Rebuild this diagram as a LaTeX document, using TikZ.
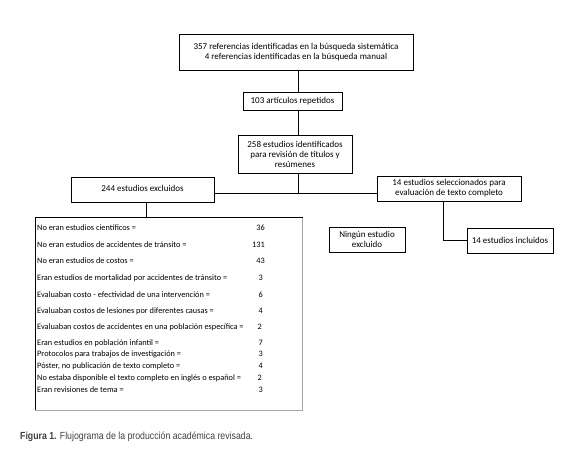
\documentclass[tikz,border=0pt]{standalone}
\usepackage{fontspec}
\setmainfont{Carlito}
\newfontfamily\capfont[FakeStretch=0.85]{Liberation Sans}
\begin{document}
\begin{tikzpicture}[x=1pt,y=-1pt,
  box/.style={draw, line width=0.8pt, inner sep=0pt, font=\fontsize{9}{10}\selectfont, align=center},
  item/.style={anchor=west, inner sep=0pt, font=\fontsize{8.3}{9}\selectfont},
  num/.style={anchor=east, inner sep=0pt, font=\fontsize{8.3}{9}\selectfont},
  link/.style={line width=0.8pt}]
\useasboundingbox (0,0) rectangle (580,459);
\node[box, minimum width=234pt, minimum height=36pt] (b1) at (296,52)
  {357 referencias identificadas en la búsqueda sistemática\\4 referencias identificadas en la búsqueda manual};
\node[box, minimum width=99pt, minimum height=18pt] (b2) at (292.5,101) {103 artículos repetidos};
\node[box, minimum width=114pt, minimum height=38pt] (b3) at (295,154)
  {258 estudios identificados\\para revisión de títulos y\\resúmenes};
\node[box, minimum width=143pt, minimum height=25pt] (b4) at (142.5,189.5) {\raisebox{2pt}{244 estudios excluidos}};
\node[box, minimum width=144pt, minimum height=25pt] (b5) at (449,188.5)
  {14 estudios seleccionados para\\evaluación de texto completo};
\node[minimum width=267pt, minimum height=192pt, inner sep=0pt] (ls) at (169,314) {};
\draw[line width=0.8pt] (ls.south west) -- (ls.north west) -- (ls.north east);
\draw[line width=0.9pt, gray!70] (ls.north east) -- (ls.south east) -- (ls.south west);
\node[box, minimum width=76pt, minimum height=25pt] (b7) at (367,239.5) {Ningún estudio\\excluido};
\node[box, minimum width=86pt, minimum height=25pt] (b8) at (510,240.5) {14 estudios incluidos};

\coordinate (sp) at (298,0);
\coordinate (j) at (298,193);
\coordinate (lx) at (146,0);
\coordinate (rx) at (443,0);
\draw[link] (b1.south -| sp) -- (b2.north -| sp);
\draw[link] (b2.south -| sp) -- (b3.north -| sp);
\draw[link] (b3.south -| sp) -- (j);
\draw[link] (b4.east |- j) -- (b5.west |- j);
\draw[link] (b4.south -| lx) -- (ls.north -| lx);
\draw[link] (b5.south -| rx) |- (b8.west);

\node[item] (i1) at (37,228) {No eran estudios científicos =};
\node[item] (i2) at (37,245) {No eran estudios de accidentes de tránsito =};
\node[item] (i3) at (37,261) {No eran estudios de costos =};
\node[item] (i4) at (37,278) {Eran estudios de mortalidad por accidentes de tránsito =};
\node[item] (i5) at (37,295) {Evaluaban costo - efectividad de una intervención =};
\node[item] (i6) at (37,311) {Evaluaban costos de lesiones por diferentes causas =};
\node[item] (i7) at (37,327) {Evaluaban costos de accidentes en una población específica =};
\node[item] (i8) at (37,343) {Eran estudios en población infantil =};
\node[item] (i9) at (37,354) {Protocolos para trabajos de investigación =};
\node[item] (i10) at (37,366) {Póster, no publicación de texto completo =};
\node[item] (i11) at (37,378) {No estaba disponible el texto completo en inglés o español =};
\node[item] (i12) at (37,390) {Eran revisiones de tema =};
\node[num] (n1) at (265,228) {36};
\node[num] (n2) at (265,245) {131};
\node[num] (n3) at (265,261) {43};
\node[num] (n4) at (263,278) {3};
\node[num] (n5) at (263,295) {6};
\node[num] (n6) at (263,311) {4};
\node[num] (n7) at (262,327) {2};
\node[num] (n8) at (263,343) {7};
\node[num] (n9) at (263,354) {3};
\node[num] (n10) at (263,366) {4};
\node[num] (n11) at (262,378) {2};
\node[num] (n12) at (263,390) {3};

\node[anchor=west, inner sep=0pt, font=\capfont\fontsize{10.3}{11}\selectfont, text=black!75] (cap) at (20,437)
  {\textbf{Figura 1.} Flujograma de la producción académica revisada.};
\end{tikzpicture}
\end{document}
